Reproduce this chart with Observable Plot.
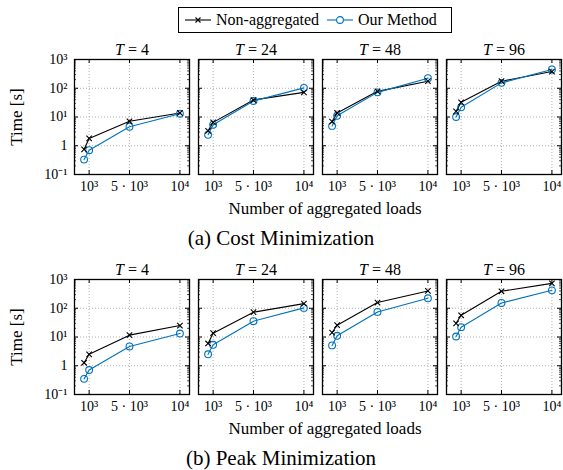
<!DOCTYPE html>
<html><head><meta charset="utf-8">
<script src="https://cdn.jsdelivr.net/npm/d3@7"></script>
<script src="https://cdn.jsdelivr.net/npm/@observablehq/plot@0.6"></script>
<style>
body{margin:0;background:#fff;font-family:'Liberation Serif','Times New Roman',serif;color:#000;}
#wrap{position:relative;width:563px;height:470px;overflow:hidden;}
.abs{position:absolute;white-space:nowrap;}
.cen{transform:translateX(-50%);}
.legend{left:178px;top:7px;width:272px;height:24px;border:1px solid #000;}
.ylab{font-size:17px;transform:translate(-50%,-50%) rotate(-90deg);}
</style></head><body><div id="wrap"></div>
<script>
// ---- data ----
const horizons = [4, 24, 48, 96];
const loads = [500, 1000, 5000, 10000];
const seriesNames = ["Non-aggregated", "Our Method"];
const seriesColors = ["#000000", "#0072bd"];
// (a) Cost minimization, one row per horizon T
const costNonAgg = [
  [0.75, 1.8, 7.1, 13.8],
  [3.3, 6.5, 39, 72],
  [6.9, 13.8, 78, 176],
  [15.7, 32.5, 176, 380]
];
const costOurs = [
  [0.33, 0.7, 4.6, 13],
  [2.4, 5.4, 36, 103],
  [4.9, 11, 72, 224],
  [10, 21.7, 154, 450]
];
// (b) Peak minimization
const peakNonAgg = [
  [1.27, 2.5, 11.6, 25],
  [5.95, 13.6, 73, 145],
  [14.3, 25.7, 158, 400],
  [30, 57, 390, 735]
];
const peakOurs = [
  [0.35, 0.71, 4.7, 13.2],
  [2.5, 5.35, 35.5, 103],
  [5.1, 11, 74.6, 222],
  [10.4, 22, 153, 420]
];
const xTicks = [1000, 5000, 10000];
const xTickLabels = ["10³", "5 · 10³", "10⁴"];
const yTicks = [0.1, 1, 10, 100, 1000];
const yTickLabels = ["10⁻¹", "1", "10¹", "10²", "10³"];
const captions = ["(a) Cost Minimization", "(b) Peak Minimization"];

// ---- layout ----
const W = 563, mL = 74, mR = 2, mT = 19, mB = 22, frameH = 115;
const H = mT + frameH + mB;
const frameW = 115;
const FONT = "'Liberation Serif', 'Times New Roman', serif";
const minorTicks = [];
for (let e = -1; e < 3; e++) for (let k = 2; k <= 9; k++) minorTicks.push(k * Math.pow(10, e));

function makeRow(nonAgg, ours) {
  const rows = [];
  horizons.forEach((T, i) => loads.forEach((n, j) => {
    rows.push({T, n, t: nonAgg[i][j], s: seriesNames[0]});
    rows.push({T, n, t: ours[i][j], s: seriesNames[1]});
  }));
  const A = rows.filter(d => d.s === seriesNames[0]);
  const B = rows.filter(d => d.s === seriesNames[1]);
  const svg = Plot.plot({
    width: W, height: H,
    marginLeft: mL, marginRight: mR, marginTop: mT, marginBottom: mB,
    style: {fontFamily: FONT, fontSize: "14px", color: "black", background: "white"},
    fx: {domain: horizons, paddingInner: 9 / 124, paddingOuter: 0, label: null},
    x: {domain: [-450, 10950]},
    y: {type: "log", domain: [0.1, 1000]},
    color: {domain: seriesNames, range: seriesColors},
    marks: [
      Plot.ruleX(xTicks, {x: d => d, stroke: "#b0b0b0", strokeDasharray: "1,2"}),
      Plot.ruleY(yTicks.slice(1, -1), {y: d => d, stroke: "#b0b0b0", strokeDasharray: "1,2"}),
      // inner tick marks (both sides)
      Plot.tickY(yTicks, {y: d => d, insetRight: frameW - 4, stroke: "#000"}),
      Plot.tickY(yTicks, {y: d => d, insetLeft: frameW - 4, stroke: "#000"}),
      Plot.tickY(minorTicks, {y: d => d, insetRight: frameW - 2, stroke: "#000", strokeWidth: 0.7}),
      Plot.tickY(minorTicks, {y: d => d, insetLeft: frameW - 2, stroke: "#000", strokeWidth: 0.7}),
      Plot.tickX(xTicks, {x: d => d, insetTop: frameH - 4, stroke: "#000"}),
      Plot.tickX(xTicks, {x: d => d, insetBottom: frameH - 4, stroke: "#000"}),
      Plot.frame({stroke: "#000", strokeWidth: 1.3}),
      Plot.axisFx({anchor: "top", tickSize: 0, tickPadding: 5, fontSize: 16, label: null, tickFormat: d => `T = ${d}`}),
      Plot.axisX(xTicks, {anchor: "bottom", tickSize: 0, tickPadding: 7, fontSize: 14, label: null,
        tickFormat: d => xTickLabels[xTicks.indexOf(d)]}),
      Plot.axisY(yTicks, {anchor: "left", tickSize: 0, tickPadding: 7, fontSize: 14, label: null,
        tickFormat: d => yTickLabels[yTicks.indexOf(d)]}),
      Plot.line(rows, {fx: "T", x: "n", y: "t", z: "s", stroke: "s", strokeWidth: 1.1}),
      Plot.dot(B, {fx: "T", x: "n", y: "t", symbol: "circle", r: 3.4, stroke: seriesColors[1], fill: "none", strokeWidth: 1.1}),
      Plot.dot(A, {fx: "T", x: "n", y: "t", symbol: "times", r: 2.6, stroke: seriesColors[0], strokeWidth: 1.1})
    ]
  });
  // italic T in facet titles
  svg.querySelectorAll('g[aria-label="fx-axis tick label"] text').forEach(t => {
    const txt = t.textContent;
    if (txt.startsWith("T")) {
      t.textContent = "";
      const ns = "http://www.w3.org/2000/svg";
      const a = document.createElementNS(ns, "tspan");
      a.setAttribute("font-style", "italic");
      a.textContent = "T";
      const b = document.createElementNS(ns, "tspan");
      b.textContent = txt.slice(1);
      t.appendChild(a); t.appendChild(b);
    }
  });
  return svg;
}

const wrap = document.getElementById("wrap");
function addDiv(html, cls, style) {
  const d = document.createElement("div");
  d.className = "abs " + (cls || "");
  d.setAttribute("style", style || "");
  d.innerHTML = html;
  wrap.appendChild(d);
  return d;
}

// legend
const leg = addDiv("", "legend", "");
function legItem(x, i, label) {
  const sym = i === 0
    ? `<path d="M10.5,3.5L15.5,8.5M15.5,3.5L10.5,8.5" stroke="#000" stroke-width="1.1"/>`
    : `<circle cx="13" cy="6" r="3.4" fill="white" stroke="${seriesColors[1]}" stroke-width="1.1"/>`;
  leg.insertAdjacentHTML("beforeend",
    `<svg style="position:absolute;left:${x}px;top:6px" width="26" height="12"><line x1="0" x2="26" y1="6" y2="6" stroke="${seriesColors[i]}" stroke-width="1.1"/>${sym}</svg>` +
    `<span style="position:absolute;left:${x + 31}px;top:1px;font-size:16px;line-height:22px">${label}</span>`);
}
legItem(6, 0, seriesNames[0]);
legItem(148, 1, seriesNames[1]);

const rowTops = [40, 260];
const rowData = [[costNonAgg, costOurs], [peakNonAgg, peakOurs]];
rowTops.forEach((top, r) => {
  const svg = makeRow(rowData[r][0], rowData[r][1]);
  svg.style.position = "absolute";
  svg.style.left = "0px";
  svg.style.top = top + "px";
  wrap.appendChild(svg);
  addDiv("Time [s]", "ylab", `left:17px;top:${top + mT + frameH / 2}px;`);
  addDiv("Number of aggregated loads", "cen", `left:325px;top:${top + 169 - 10}px;font-size:17px;line-height:20px;`);
  addDiv(captions[r], "cen", `left:281px;top:${top + 198 - 13}px;font-size:21px;line-height:26px;`);
});
</script></body></html>
